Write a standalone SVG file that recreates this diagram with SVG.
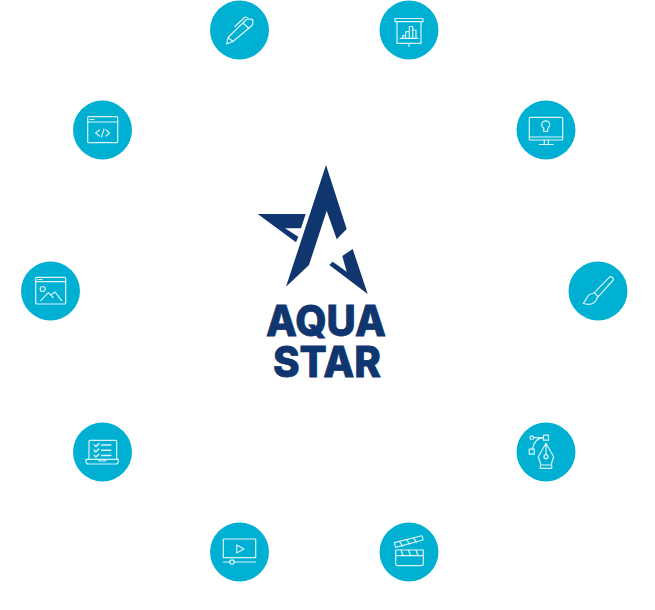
<svg xmlns="http://www.w3.org/2000/svg" width="655" height="610" viewBox="0 0 655 610">
<style>
.c{fill:#00b0d3}
.i{fill:none;stroke:#fff;stroke-opacity:.85;stroke-width:1.2;stroke-linejoin:round;stroke-linecap:round}
.b{stroke-width:1.6}
.l{fill:#10366f}
.t{fill:#10366f;stroke:#10366f;stroke-width:.8;font-family:Inter,"Liberation Sans",Arial,sans-serif;font-weight:800;font-size:42px}
</style>
<rect width="655" height="610" fill="#fff"/>
<g id="logo">
<path class="l" d="M326 165L346.700 229L336.700 239.300L326.700 210.700L309 265L286 286.700Z"/>
<path class="l" d="M257.700 214H305.700L301 228.300H285L298.300 236.700L296 242.300Z"/>
<path class="l" d="M352.700 249L367.700 294L329.300 265L332.700 261.700L346.700 271.700L342.300 256Z"/>
<text class="t" x="266" y="336" textLength="120" lengthAdjust="spacingAndGlyphs">AQUA</text>
<text class="t" x="273" y="377" textLength="108" lengthAdjust="spacingAndGlyphs">STAR</text>
</g>
<g id="node-pen">
<circle class="c" cx="239.500" cy="30" r="29.500"/>
<path class="i" d="M226.700 44L228 37.500L246.500 19.500L251.500 19L253 20.500L252.500 25L233 41.500ZM228 37.500L233 41.500M243 23L249 28.500M248 18L245 17L235 26.500"/>
</g>
<g id="node-chart">
<circle class="c" cx="409" cy="30" r="29.500"/>
<path class="i" d="M395 18.500H423V21.700H395ZM397 21.700V43.300H421V21.700M409 43.300V46.500"/>
<path class="i" d="M400 38.300H418M402.700 38.300V35.700H405.700V38.300M405.700 38.300V31.700H409.300V38.300M409.300 38.300V26.500H412.700V38.300M412.700 38.300V30H416V38.300"/>
</g>
<g id="node-code">
<circle class="c" cx="102.500" cy="130" r="29.500"/>
<rect class="i" x="87.700" y="116.700" width="30" height="26" rx="1"/>
<path class="i" d="M87.700 122H117.700M90 119.500H94M99.500 130L95.500 133L99.500 136M106 130L109.500 133L106 136M104 129L101.500 137"/>
</g>
<g id="node-monitor">
<circle class="c" cx="546" cy="130" r="29.500"/>
<rect class="i" x="529.300" y="117.300" width="33.400" height="22.700" rx="1"/>
<path class="i" d="M529.300 137H562.700M544.300 140V144.500M548.300 140V144.500M539.300 144.500H553.300"/>
<path class="i" d="M543.800 131.500V128.500C542.500 127.500 541.700 126.300 541.700 124.800C541.700 122.500 543.500 120.800 545.700 120.800C547.900 120.800 549.700 122.500 549.700 124.800C549.700 126.300 548.900 127.500 547.600 128.500V131.500Z"/>
</g>
<g id="node-image">
<circle class="c" cx="50.500" cy="291" r="29.500"/>
<rect class="i" x="35.700" y="277.300" width="30" height="26.700" rx="1"/>
<path class="i" d="M35.700 281.700H65.700M38 279.500H42M40.700 300.700L48.300 292.700L53.300 297.700M50.500 295L55 292L61.700 300.700"/>
<circle class="i" cx="42.700" cy="289" r="2.500"/>
</g>
<g id="node-brush">
<circle class="c" cx="598" cy="291" r="29.500"/>
<path class="i" d="M610 276.700C611.500 276 613.800 278.500 613.300 280L598.300 296.700L594.300 292.700Z"/>
<path class="i" d="M594.300 293C590 293.500 587.500 296 586.500 298.500C585.800 300.500 584.500 301.500 583.300 303.300C586 304.800 591 304.800 593.500 303C595.800 301.500 597 299.500 597.500 296.500"/>
</g>
<g id="node-checklist">
<circle class="c" cx="102.500" cy="452" r="29.500"/>
<path class="i" d="M89 459.300V441.300C89 440.700 89.500 440.300 90 440.300H115.700C116.300 440.300 116.700 440.700 116.700 441.300V459.300"/>
<path class="i" d="M86 459.300H118.300V461.500C118.300 463 117.500 464 116 464H88.500C87 464 86 463 86 461.500ZM98 459.300L99.500 461H105L106.500 459.300"/>
<path class="i b" d="M94.300 445L96 446.500L98.800 443.700M94.300 450.300L96 451.800L98.800 449M94.300 455.500L96 457L98.800 454.200M101.700 445H110.700M101.700 450.300H110.700M101.700 455.500H110.700"/>
</g>
<g id="node-vector">
<circle class="c" cx="546" cy="452" r="29.500"/>
<rect class="i" x="543.500" y="435.200" width="5" height="5"/>
<rect class="i" x="529.200" y="449.200" width="5" height="5"/>
<circle class="i" cx="531.700" cy="437.700" r="1.800"/>
<path class="i" d="M533.500 437.700H543.500M543.500 437.700C538 437.700 533.500 442 532.500 449.200"/>
<path class="i" d="M546 443.300L538.300 456.700L541 465H551L553.700 456.700ZM546 443.300V454.700M540.300 465H551.700V468.300H540.300Z"/>
<circle class="i" cx="546" cy="456.700" r="2"/>
</g>
<g id="node-video">
<circle class="c" cx="239.500" cy="552" r="29.500"/>
<rect class="i" x="223.300" y="539" width="32.400" height="18.700"/>
<path class="i" d="M236.700 545L244 549L236.700 553Z"/>
<path class="i" d="M223.300 562H229.800M234.300 562H255.700"/>
<circle class="i" cx="232" cy="562" r="2.200"/>
</g>
<g id="node-clapper">
<circle class="c" cx="409" cy="552" r="29.500"/>
<path class="i" d="M395.700 550H423.300V563.500C423.300 565 422.300 565.700 421 565.700H398C396.500 565.700 395.700 565 395.700 563.500ZM395.700 555.700H423.300"/>
<path class="i" d="M401 550L403 555.700M408.500 550L410.500 555.700M416 550L418 555.700"/>
<path class="i" d="M394.300 542.700L420.700 536C421.700 535.800 422.300 536 422.500 537L423 540L395.700 547.300Z"/>
<path class="i" d="M399.500 541.500L402.500 546M406.500 539.500L409.500 544M413.500 537.800L416.500 542.300"/>
</g>
<g id="connectors"></g>
</svg>
